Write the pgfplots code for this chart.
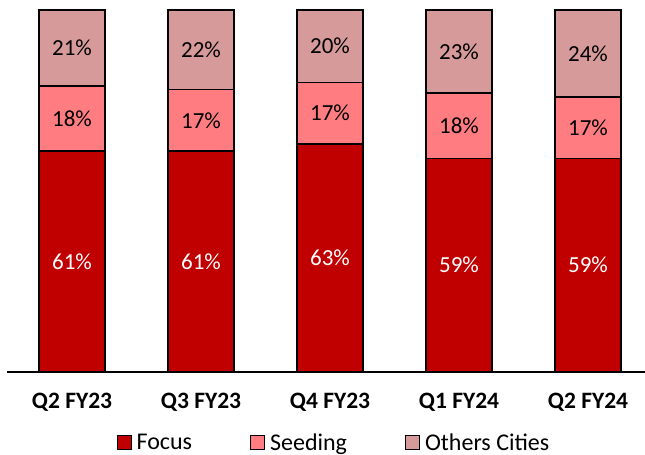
\documentclass[border=0pt]{standalone}
\usepackage{pgfplots}
\pgfplotsset{compat=1.18}
\usepackage{pgfplotstable}
\usepackage{fontspec}
\setmainfont{Carlito}
\definecolor{cFocus}{HTML}{C00000}
\definecolor{cSeed}{HTML}{FF7C80}
\definecolor{cOther}{HTML}{D69A9A}
\pgfplotstableread{
x focus seeding others
0 61 18 21
1 61 17 22
2 63 17 20
3 59 18 23
4 59 17 24
}\data
\begin{document}
\begin{tikzpicture}
\useasboundingbox (-7bp,-83bp) rectangle (638bp,372bp);
\begin{axis}[
  at={(0,0)}, anchor=south west,
  scale only axis, width=638bp, height=362bp,
  ybar stacked, bar width=66bp,
  xmin=-0.504, xmax=4.442, ymin=0, ymax=100,
  axis x line*=bottom, axis y line=none,
  x axis line style={line width=2.6bp,-},
  xtick=data,
  xticklabels={Q2 FY23,Q3 FY23,Q4 FY23,Q1 FY24,Q2 FY24},
  major tick length=0pt,
  xticklabel style={font=\fontsize{23.5bp}{26bp}\selectfont\bfseries, anchor=north, inner sep=0pt, yshift=-21bp},
  clip=false,
  /pgf/number format/assume math mode=true,
  every axis plot/.append style={draw=black, line width=1.6bp},
  point meta=explicit,
  nodes near coords={\pgfmathprintnumber{\pgfplotspointmeta}\%},
  every node near coord/.append style={anchor=center, font=\fontsize{23bp}{26bp}\selectfont},
  legend style={at={(0.5125,-0.196)}, anchor=center, draw=none, legend columns=-1,
    font=\fontsize{24bp}{28bp}\selectfont,
    /tikz/every odd column/.append style={column sep=3bp},
    /tikz/every even column/.append style={column sep=56bp}},
  legend image code/.code={\draw[#1,draw=black,line width=1bp] (0bp,-7bp) rectangle (14bp,7bp);},
]
\addplot[fill=cFocus, every node near coord/.append style={text=white}] table[x=x,y=focus,meta=focus] \data;
\addplot[fill=cSeed] table[x=x,y=seeding,meta=seeding] \data;
\addplot[fill=cOther] table[x=x,y=others,meta=others] \data;
\legend{Focus,Seeding,Others Cities}
\end{axis}
\end{tikzpicture}
\end{document}
